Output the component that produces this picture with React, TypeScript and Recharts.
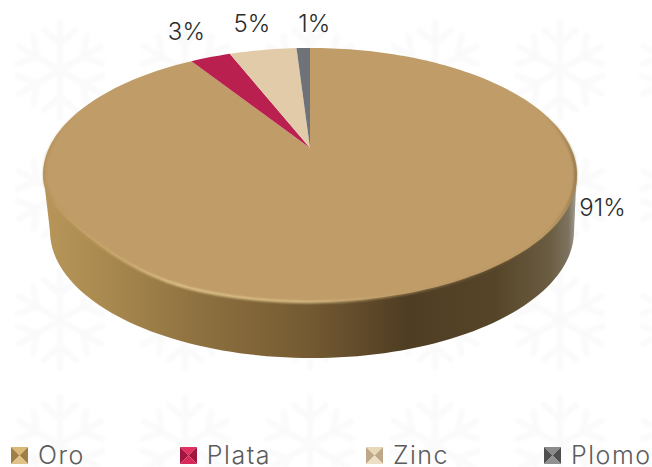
import React from "react";
import { PieChart, Pie, Cell, Legend } from "recharts";

const categories = ["Oro", "Plata", "Zinc", "Plomo"];
const shares = [91, 3, 5, 1];
const topColors = ["#c09c68", "#b9204f", "#e2cba9", "#6e7379"];
const iconShades = [
  { top: "#d9b878", side: "#a07f45", bottom: "#e0c288" },
  { top: "#e0305f", side: "#a3143f", bottom: "#d82a5a" },
  { top: "#e8d8b8", side: "#bfa888", bottom: "#ecdfc4" },
  { top: "#8a8a8a", side: "#4e4e4e", bottom: "#909090" },
];
const data = categories.map((name, i) => ({ name, value: shares[i] }));

const WIDTH = 652;
const HEIGHT = 467;
const CX = 310;
const CY = 148;
const RADIUS = 261;
const SQUASH = 0.4648;
const PERSPECTIVE = 0.2126;
const DEPTH = 56;
const RAD = Math.PI / 180;
const BEVEL_CENTRE = 222;
const BEVEL_HALF = 29;
const BEVEL_AMOUNT = 0.035;

const labelNudges = [
  [201, -87],
  [-24, -26],
  [-11, -26],
  [11, -24],
];

type Pt = [number, number];

const project = (cx: number, cy: number, r: number, deg: number): Pt => {
  const u = Math.cos(deg * RAD);
  const v = Math.sin(deg * RAD);
  const d = 1 + PERSPECTIVE * v;
  return [cx + (r * u) / d, cy - (r * SQUASH * v) / d];
};

// the large slice's rim rolls inward a little on the lower left
const bevelled = (deg: number) => {
  const a = ((deg % 360) + 360) % 360;
  const t = Math.abs(a - BEVEL_CENTRE) / BEVEL_HALF;
  return t >= 1 ? 1 : 1 - BEVEL_AMOUNT * Math.cos((t * Math.PI) / 2) ** 2;
};

const arcPoints = (cx: number, cy: number, r: number, from: number, to: number, bevel = false): Pt[] => {
  const steps = Math.max(2, Math.ceil(Math.abs(to - from) / 1.5));
  const out: Pt[] = [];
  for (let i = 0; i <= steps; i += 1) {
    const a = from + ((to - from) * i) / steps;
    out.push(project(cx, cy, bevel ? r * bevelled(a) : r, a));
  }
  return out;
};

const toPath = (pts: Pt[], close = false) =>
  pts.map((p, i) => `${i ? "L" : "M"}${p[0].toFixed(2)} ${p[1].toFixed(2)}`).join(" ") + (close ? " Z" : "");

function Slice(props: any) {
  const { cx, cy, outerRadius, startAngle, endAngle, fill, index } = props;
  const isMain = index === 0;
  const rimPts = arcPoints(cx, cy, outerRadius, startAngle, endAngle, isMain);
  const top = [[cx, cy] as Pt, ...rimPts];
  if (!isMain) return <path d={toPath(top, true)} fill={fill} />;

  // side wall of the disc, only under the large slice
  const wallRx = outerRadius * 1.004;
  const centre = project(cx, cy, outerRadius, 270);
  const widest = cy - (outerRadius * SQUASH * -PERSPECTIVE) / (1 - PERSPECTIVE * PERSPECTIVE);
  const topRx = outerRadius / Math.sqrt(1 - PERSPECTIVE * PERSPECTIVE);
  const topRy = centre[1] - widest;
  const wall: Pt[] = [];
  wall.push([cx - topRx + 0.5, widest]);
  for (let a = 180; a <= 360; a += 2) {
    wall.push([cx + 2 + wallRx * Math.cos(a * RAD), widest + DEPTH - topRy * Math.sin(a * RAD)]);
  }
  wall.push([cx + topRx - 0.5, widest]);
  const front = arcPoints(cx, cy, outerRadius, 200, 335, true);
  const rim = arcPoints(cx, cy, outerRadius - 1.5, startAngle, endAngle, true);
  return (
    <g>
      <path d={toPath(wall, true)} fill="url(#wallGrad)" />
      <path d={toPath(top, true)} fill={fill} />
      <path d={toPath(rim)} fill="none" stroke="url(#rimGrad)" strokeWidth={2.5} filter="url(#soft)" />
      <path d={toPath(front)} fill="none" stroke="url(#frontGrad)" strokeWidth={2.2} filter="url(#soft)" />
    </g>
  );
}

function PctLabel(props: any) {
  const { cx, cy, outerRadius, midAngle, index, value } = props;
  const [x, y] = project(cx, cy, outerRadius, midAngle);
  const [dx, dy] = labelNudges[index];
  return (
    <text x={x + dx} y={y + dy} textAnchor="middle" dominantBaseline="central" fontSize={24} fontWeight={300} fill="#2b2b2b" fontFamily="Inter, sans-serif">
      {value}%
    </text>
  );
}

function BevelIcon({ index }: { index: number }) {
  const s = iconShades[index];
  return (
    <svg width={17} height={17} viewBox="0 0 17 17" style={{ display: "block", flex: "none" }}>
      <polygon points="0,0 17,0 8.5,8.5" fill={s.top} />
      <polygon points="0,0 0,17 8.5,8.5" fill={s.side} />
      <polygon points="17,0 17,17 8.5,8.5" fill={s.side} />
      <polygon points="0,17 17,17 8.5,8.5" fill={s.bottom} />
    </svg>
  );
}

function LegendRow(props: any) {
  const payload = props.payload || [];
  return (
    <div style={{ display: "flex", gap: 95, paddingLeft: 11, alignItems: "center", height: 23, whiteSpace: "nowrap" }}>
      {payload.map((entry: any) => (
        <div key={entry.value} style={{ display: "flex", alignItems: "center", gap: 10 }}>
          <BevelIcon index={categories.indexOf(entry.value)} />
          <span style={{ fontFamily: "Inter, sans-serif", fontWeight: 300, fontSize: 25, lineHeight: "23px", letterSpacing: 1.5, color: "#5c5c5c" }}>{entry.value}</span>
        </div>
      ))}
    </div>
  );
}

const flakeCells = [0, 60, 120];
function Flake() {
  return (
    <g stroke="#fafafa" strokeWidth={6} strokeLinecap="round" fill="none">
      {flakeCells.map((deg) => (
        <g key={deg} transform={`rotate(${deg} 60 60)`}>
          <path d="M60 12 V108" />
          <path d="M60 34 L44 20 M60 34 L76 20 M60 86 L44 100 M60 86 L76 100" />
        </g>
      ))}
    </g>
  );
}

export default function App() {
  return (
    <div style={{ position: "absolute", left: 0, top: 0, width: WIDTH, height: HEIGHT, overflow: "hidden", background: "#ffffff" }}>
      <svg width={WIDTH} height={HEIGHT} style={{ position: "absolute", left: 0, top: 0 }}>
        <defs>
          <pattern id="flakes" width="125" height="125" patternUnits="userSpaceOnUse" y="10">
            <Flake />
          </pattern>
          <filter id="bgBlur"><feGaussianBlur stdDeviation="1.4" /></filter>
        </defs>
        <rect width={WIDTH} height={HEIGHT} fill="url(#flakes)" filter="url(#bgBlur)" />
      </svg>
      <div style={{ position: "absolute", left: 0, top: 0 }}>
        <PieChart width={WIDTH} height={HEIGHT} margin={{ top: 0, right: 0, bottom: 0, left: 0 }}>
          <defs>
            <linearGradient id="wallGrad" x1="0" y1="0" x2="1" y2="0">
              <stop offset="0" stopColor="#b8965a" />
              <stop offset="0.1" stopColor="#ab8b50" />
              <stop offset="0.3" stopColor="#8d703f" />
              <stop offset="0.5" stopColor="#745a32" />
              <stop offset="0.68" stopColor="#4f3d23" />
              <stop offset="0.85" stopColor="#564529" />
              <stop offset="0.95" stopColor="#6b5d42" />
              <stop offset="0.985" stopColor="#7d7360" />
              <stop offset="1" stopColor="#a8a498" />
            </linearGradient>
            <linearGradient id="frontGrad" x1="0" y1="0" x2="1" y2="0">
              <stop offset="0" stopColor="#d9b36c" stopOpacity="0" />
              <stop offset="0.25" stopColor="#e8cf94" />
              <stop offset="0.5" stopColor="#dcc088" />
              <stop offset="0.8" stopColor="#a98a5a" stopOpacity="0.4" />
              <stop offset="1" stopColor="#8a7048" stopOpacity="0" />
            </linearGradient>
            <linearGradient id="rimGrad" x1="0" y1="0" x2="1" y2="0">
              <stop offset="0" stopColor="#ad8b4c" stopOpacity="0.6" />
              <stop offset="0.08" stopColor="#c09c68" stopOpacity="0" />
              <stop offset="0.92" stopColor="#c09c68" stopOpacity="0" />
              <stop offset="1" stopColor="#7a6540" stopOpacity="0.7" />
            </linearGradient>
            <filter id="soft" x="-5%" y="-5%" width="110%" height="110%">
              <feGaussianBlur stdDeviation="0.9" />
            </filter>
          </defs>
          <Pie
            data={data}
            dataKey="value"
            nameKey="name"
            cx={CX}
            cy={CY}
            innerRadius={0}
            outerRadius={RADIUS}
            startAngle={90}
            endAngle={-270}
            stroke="none"
            isAnimationActive={false}
            shape={(p: any) => <Slice {...p} />}
            label={(p: any) => <PctLabel {...p} />}
            labelLine={false}
          >
            {data.map((d, i) => (
              <Cell key={d.name} fill={topColors[i]} />
            ))}
          </Pie>
          <Legend
            verticalAlign="bottom"
            itemSorter={null}
            content={(p: any) => <LegendRow {...p} />}
            wrapperStyle={{ position: "absolute", left: 0, top: 444, bottom: "auto", width: WIDTH, height: 23 }}
          />
        </PieChart>
      </div>
    </div>
  );
}
